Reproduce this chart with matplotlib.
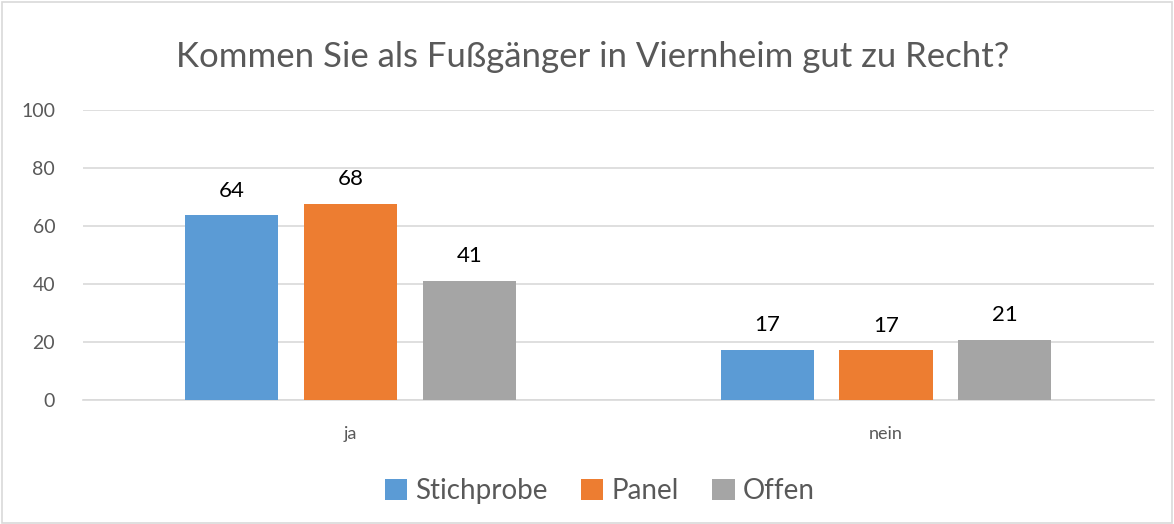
import matplotlib
matplotlib.use("Agg")
import matplotlib.pyplot as plt
import numpy as np

categories = ["ja", "nein"]
series_names = ["Stichprobe", "Panel", "Offen"]
stichprobe = [63.7, 17.4]
panel = [67.6, 17.1]
offen = [41.2, 20.7]
colors = ["#5B9BD5", "#ED7D31", "#A5A5A5"]
yticks = [0, 20, 40, 60, 80, 100]

plt.rcParams['font.family'] = ['Lato', 'DejaVu Sans']

fig = plt.figure(figsize=(11.74, 5.24), dpi=100)
ax = fig.add_axes([0.0707, 0.2366, 0.912, 0.5534])

x = np.arange(len(categories))
width = 0.174
offsets = [-0.222, 0.0, 0.222]
for vals, name, col, off in zip([stichprobe, panel, offen], series_names, colors, offsets):
    bars = ax.bar(x + off, vals, width, color=col, label=name, zorder=3)
    for b, v in zip(bars, vals):
        ax.text(b.get_x() + b.get_width() / 2, v + 5, f"{v:.0f}", ha="center",
                va="bottom", fontsize=16, color="#000000")

ax.set_xlim(-0.5, 1.5)
ax.set_ylim(0, 100)
ax.set_yticks(yticks)
ax.set_xticks(x)
ax.set_xticklabels(categories)
ax.grid(axis="y", color="#D9D9D9", linewidth=1.2, zorder=0)
for s in ["top", "right", "left"]:
    ax.spines[s].set_visible(False)
ax.spines["bottom"].set_color("#D9D9D9")
ax.spines["bottom"].set_linewidth(1.2)
ax.tick_params(axis="both", length=0, colors="#595959", labelsize=14)
ax.tick_params(axis="x", labelsize=13)
ax.tick_params(axis="y", pad=20)
ax.tick_params(axis="x", pad=19)

fig.text(0.505, 0.891, "Kommen Sie als Fußgänger in Viernheim gut zu Recht?",
         ha="center", va="center", fontsize=25, color="#595959")

handles, labels = ax.get_legend_handles_labels()
fig.legend(handles, labels, loc="center", bbox_to_anchor=(0.511, 0.063), ncol=3,
           frameon=False, fontsize=20, handlelength=0.8, handleheight=0.8,
           columnspacing=1.2, handletextpad=0.3, labelcolor="#595959")

border = plt.Rectangle((0.002, 0.002), 0.996, 0.994, transform=fig.transFigure,
                       fill=False, edgecolor="#D9D9D9", linewidth=1.2)
fig.patches.append(border)

fig.savefig("out.png", dpi=100)
